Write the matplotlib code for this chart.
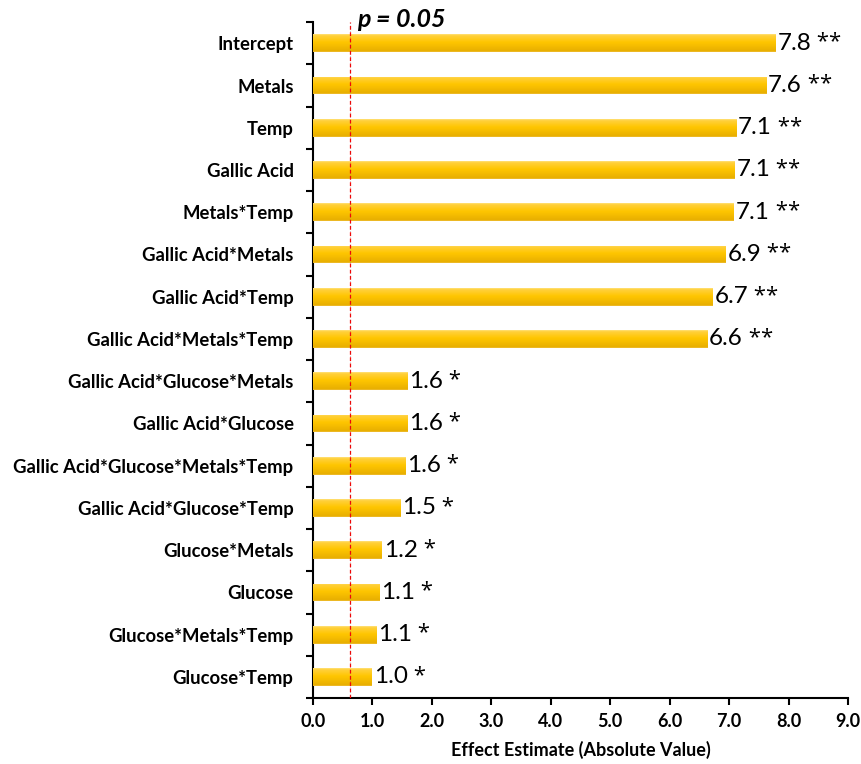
import numpy as np
import matplotlib
matplotlib.use("Agg")
import matplotlib.pyplot as plt
from matplotlib.colors import LinearSegmentedColormap

terms = [
    "Intercept", "Metals", "Temp", "Gallic Acid", "Metals*Temp",
    "Gallic Acid*Metals", "Gallic Acid*Temp", "Gallic Acid*Metals*Temp",
    "Gallic Acid*Glucose*Metals", "Gallic Acid*Glucose",
    "Gallic Acid*Glucose*Metals*Temp", "Gallic Acid*Glucose*Temp",
    "Glucose*Metals", "Glucose", "Glucose*Metals*Temp", "Glucose*Temp",
]
effects = [7.78, 7.62, 7.12, 7.09, 7.08, 6.94, 6.72, 6.63,
           1.59, 1.59, 1.56, 1.47, 1.16, 1.12, 1.07, 0.99]
stars = ["**"] * 8 + ["*"] * 8
p_threshold = 0.62
xticks = [0.0, 1.0, 2.0, 3.0, 4.0, 5.0, 6.0, 7.0, 8.0, 9.0]

plt.rcParams["font.family"] = ["Lato", "DejaVu Sans"]

fig = plt.figure(figsize=(8.61, 7.64), dpi=100)
ax = fig.add_axes([0.3635, 0.0864, 0.6215, 0.8846])

n = len(terms)
ypos = np.arange(n)
bar_h = 0.42

bars = ax.barh(ypos, effects, height=bar_h, color="#FCC300", edgecolor="none", zorder=2)

# vertical gold gradient inside each bar (top -> bottom)
grad_cmap = LinearSegmentedColormap.from_list(
    "gold", [(0.0, "#FFE27A"), (0.08, "#FFD03C"), (0.45, "#FFC600"),
             (0.95, "#E8AF00"), (1.0, "#F0C040")])
grad = np.linspace(0, 1, 64).reshape(-1, 1)
for b in bars:
    x0, y0 = b.get_x(), b.get_y()
    w, h = b.get_width(), b.get_height()
    im = ax.imshow(grad, cmap=grad_cmap, aspect="auto", interpolation="bilinear",
                   extent=[x0, x0 + w, y0, y0 + h], origin="lower", zorder=3)
    im.set_clip_path(b)

# value labels: number in Lato, significance stars in a font with larger asterisks
for y, v, s in zip(ypos, effects, stars):
    t = ax.text(v + 0.03, y, f"{v:.1f}", va="center", ha="left",
                fontsize=17.5, color="black", zorder=4)
    ax.annotate(" " + s, xycoords=t, xy=(1, 0.5), va="center", ha="left",
                fontsize=16, fontfamily=["Open Sans", "DejaVu Sans"],
                color="black", zorder=4,
                xytext=(0, 0.5), textcoords="offset points")

ax.axvline(p_threshold, color="#FF0000", linestyle=(0, (3, 2)), linewidth=0.9, zorder=5)
ax.axvline(p_threshold, color="#555555", linestyle=(0, (1, 4)), linewidth=0.4, zorder=5)
ax.text(p_threshold + 0.12, -0.38, "p = 0.05", fontsize=18, fontweight="bold",
        fontstyle="italic", va="baseline", ha="left", color="black", zorder=6)

ax.set_xlim(0, 9)
ax.set_ylim(n - 0.5, -0.5)
ax.set_xticks(xticks)
ax.set_xticklabels([f"{t:.1f}" for t in xticks], fontsize=13, fontweight="bold")
ax.set_yticks(ypos)
ax.set_yticklabels(terms, fontsize=13.3, fontweight="bold")
ax.tick_params(axis="y", which="major", length=0, pad=14)
ax.set_yticks(np.arange(n + 1) - 0.5, minor=True)
ax.tick_params(axis="y", which="minor", length=5, width=1.5, direction="out")
ax.tick_params(axis="x", length=5, width=1.5, direction="out", pad=6)

for side in ("top", "right"):
    ax.spines[side].set_visible(False)
for side in ("left", "bottom"):
    ax.spines[side].set_linewidth(1.5)

ax.set_xlabel("Effect Estimate (Absolute Value)", fontsize=13, fontweight="bold", labelpad=8)

fig.savefig("out.png", dpi=100)
